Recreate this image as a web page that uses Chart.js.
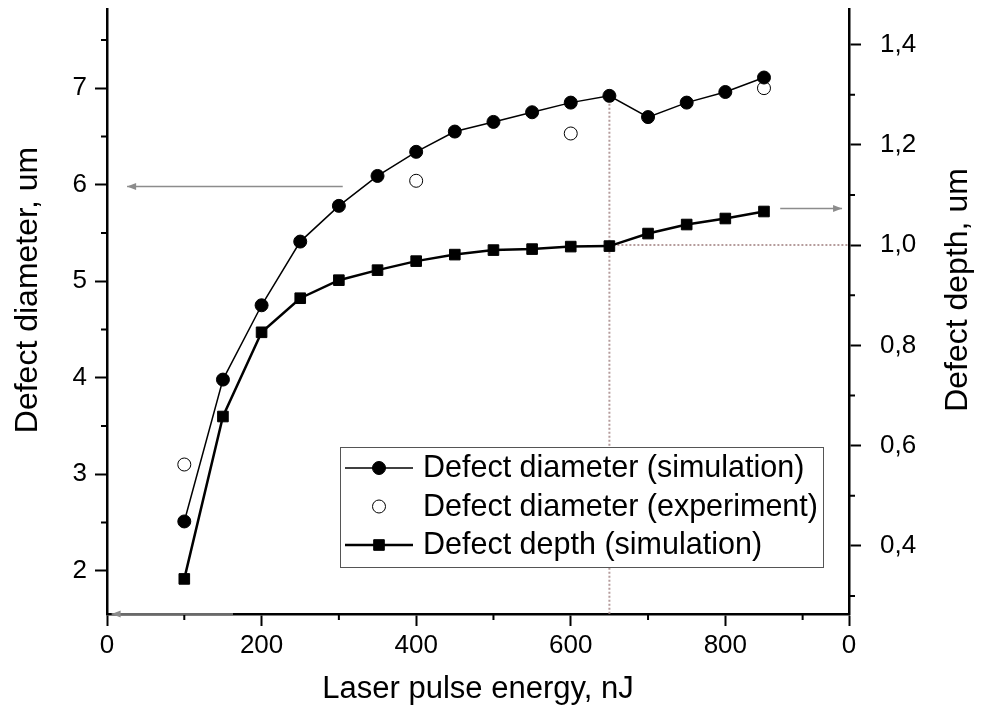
<!DOCTYPE html>
<html>
<head>
<meta charset="utf-8">
<script src="https://cdn.jsdelivr.net/npm/chart.js@4.4.1/dist/chart.umd.min.js"></script>
<style>
  html, body { margin: 0; padding: 0; background: #fff; }
</style>
</head>
<body>
<canvas id="myChart" width="984" height="708"></canvas>
<script>
// pulse energy, nJ
const energy = [100, 150, 200, 250, 300, 350, 400, 450, 500, 550, 600, 650, 700, 750, 800, 850];
// defect diameter, um (simulation)
const diamSim = [2.51, 3.98, 4.75, 5.41, 5.78, 6.09, 6.34, 6.55, 6.65, 6.75, 6.85, 6.92, 6.70, 6.85, 6.96, 7.11];
// defect diameter, um (experiment)
const expEnergy = [100, 400, 600, 850];
const diamExp = [3.10, 6.04, 6.53, 7.00];
// defect depth, um (simulation)
const depthSim = [0.334, 0.658, 0.826, 0.894, 0.930, 0.950, 0.968, 0.981, 0.990, 0.992, 0.997, 0.998, 1.023, 1.041, 1.053, 1.067];

const xTicks = [0, 200, 400, 600, 800, 960];
const xTickLabels = ['0', '200', '400', '600', '800', '0'];
const xMinor = [100, 300, 500, 700, 900];
const leftTicks = [2, 3, 4, 5, 6, 7];
const leftMinor = [2.5, 3.5, 4.5, 5.5, 6.5, 7.5];
const rightTicks = [0.4, 0.6, 0.8, 1.0, 1.2, 1.4];
const rightTickLabels = ['0,4', '0,6', '0,8', '1,0', '1,2', '1,4'];
const rightMinor = [0.3, 0.5, 0.7, 0.9, 1.1, 1.3];

const FONT = '"Liberation Sans", Arial, sans-serif';
Chart.defaults.font.family = FONT;
Chart.defaults.color = '#000';

function pts(xs, ys) {
  return xs.map((x, i) => ({ x: x, y: ys[i] }));
}

function arrow(ctx, x1, y1, x2, y2) {
  const a = Math.atan2(y2 - y1, x2 - x1);
  ctx.beginPath();
  ctx.moveTo(x1, y1);
  ctx.lineTo(x2, y2);
  ctx.stroke();
  ctx.beginPath();
  ctx.moveTo(x2, y2);
  ctx.lineTo(x2 - 9 * Math.cos(a) + 3.5 * Math.sin(a), y2 - 9 * Math.sin(a) - 3.5 * Math.cos(a));
  ctx.lineTo(x2 - 9 * Math.cos(a) - 3.5 * Math.sin(a), y2 - 9 * Math.sin(a) + 3.5 * Math.cos(a));
  ctx.closePath();
  ctx.fill();
}

function marker(ctx, style, x, y, r, fill) {
  ctx.fillStyle = fill;
  ctx.strokeStyle = '#000';
  ctx.lineWidth = 1;
  ctx.beginPath();
  if (style === 'rect') {
    const s = r * Math.SQRT1_2;
    ctx.rect(x - s, y - s, 2 * s, 2 * s);
  } else {
    ctx.arc(x, y, r, 0, Math.PI * 2);
  }
  ctx.fill();
  ctx.stroke();
}

// guides, arrows, minor ticks, y titles and the boxed legend
const extras = {
  id: 'extras',
  beforeDatasetsDraw(chart) {
    const ctx = chart.ctx;
    const x = chart.scales.x, yL = chart.scales.y, yR = chart.scales.yR;
    const area = chart.chartArea;
    const k = energy.indexOf(650);
    ctx.save();
    ctx.strokeStyle = '#b59c9c';
    ctx.lineWidth = 2;
    ctx.setLineDash([2, 2]);
    ctx.beginPath();
    ctx.moveTo(x.getPixelForValue(650), yL.getPixelForValue(diamSim[k]));
    ctx.lineTo(x.getPixelForValue(650), area.bottom);
    ctx.moveTo(x.getPixelForValue(650), yR.getPixelForValue(1.0));
    ctx.lineTo(area.right, yR.getPixelForValue(1.0));
    ctx.stroke();
    ctx.setLineDash([]);

    ctx.strokeStyle = '#8c8c8c';
    ctx.fillStyle = '#8c8c8c';
    ctx.lineWidth = 1.5;
    arrow(ctx, x.getPixelForValue(305), yL.getPixelForValue(5.98), x.getPixelForValue(26), yL.getPixelForValue(5.98));
    arrow(ctx, x.getPixelForValue(871), yR.getPixelForValue(1.073), x.getPixelForValue(951), yR.getPixelForValue(1.073));
    ctx.restore();
  },
  afterDraw(chart) {
    const ctx = chart.ctx;
    const x = chart.scales.x, yL = chart.scales.y, yR = chart.scales.yR;
    const area = chart.chartArea;
    ctx.save();
    // minor ticks
    ctx.strokeStyle = '#000';
    ctx.lineWidth = 2;
    ctx.beginPath();
    xMinor.forEach(v => {
      const px = x.getPixelForValue(v);
      ctx.moveTo(px, area.bottom);
      ctx.lineTo(px, area.bottom + 6);
    });
    leftMinor.forEach(v => {
      const py = yL.getPixelForValue(v);
      ctx.moveTo(area.left, py);
      ctx.lineTo(area.left - 6, py);
    });
    rightMinor.forEach(v => {
      const py = yR.getPixelForValue(v);
      ctx.moveTo(area.right, py);
      ctx.lineTo(area.right + 6, py);
    });
    ctx.stroke();

    // gray arrow lying on the bottom axis
    ctx.strokeStyle = '#8c8c8c';
    ctx.fillStyle = '#8c8c8c';
    ctx.lineWidth = 1.5;
    arrow(ctx, x.getPixelForValue(163), area.bottom, x.getPixelForValue(6), area.bottom);

    // y axis titles
    ctx.fillStyle = '#000';
    ctx.font = '32px ' + FONT;
    ctx.textAlign = 'center';
    ctx.textBaseline = 'middle';
    [[28, 'Defect diameter, um'], [958, 'Defect depth, um']].forEach(t => {
      ctx.save();
      ctx.translate(t[0], 290);
      ctx.rotate(-Math.PI / 2);
      ctx.fillText(t[1], 0, 0);
      ctx.restore();
    });

    // legend
    const lx = 340, ly = 447, lw = 483, lh = 120;
    ctx.fillStyle = '#fff';
    ctx.fillRect(lx, ly, lw, lh);
    ctx.strokeStyle = '#555';
    ctx.lineWidth = 1;
    ctx.strokeRect(lx + 0.5, ly + 0.5, lw, lh);
    ctx.font = '30.5px ' + FONT;
    ctx.textAlign = 'left';
    chart.data.datasets.forEach((ds, i) => {
      const cy = ly + 21 + i * 38.5;
      if (ds.showLine !== false) {
        ctx.strokeStyle = '#000';
        ctx.lineWidth = ds.borderWidth;
        ctx.beginPath();
        ctx.moveTo(lx + 5, cy);
        ctx.lineTo(lx + 73, cy);
        ctx.stroke();
      }
      marker(ctx, ds.pointStyle, lx + 39, cy, ds.pointRadius, ds.pointBackgroundColor);
      ctx.fillStyle = '#000';
      ctx.fillText(ds.label, lx + 83, cy + 1);
    });
    ctx.restore();
  }
};

const tickGrid = {
  drawOnChartArea: false,
  drawTicks: true,
  tickLength: 12,
  tickColor: '#000',
  tickWidth: 2
};
const axisBorder = { display: true, color: '#000', width: 2.5 };

new Chart(document.getElementById('myChart').getContext('2d'), {
  type: 'line',
  data: {
    datasets: [{
      label: 'Defect diameter (simulation)',
      data: pts(energy, diamSim),
      yAxisID: 'y',
      borderColor: '#000',
      borderWidth: 1.5,
      pointStyle: 'circle',
      pointRadius: 6.5,
      pointBackgroundColor: '#000',
      pointBorderColor: '#000',
      pointBorderWidth: 1
    }, {
      label: 'Defect diameter (experiment)',
      data: pts(expEnergy, diamExp),
      yAxisID: 'y',
      showLine: false,
      pointStyle: 'circle',
      pointRadius: 6.5,
      pointBackgroundColor: '#fff',
      pointBorderColor: '#000',
      pointBorderWidth: 1
    }, {
      label: 'Defect depth (simulation)',
      data: pts(energy, depthSim),
      yAxisID: 'yR',
      borderColor: '#000',
      borderWidth: 2.5,
      pointStyle: 'rect',
      pointRadius: 7.5,
      pointBackgroundColor: '#000',
      pointBorderColor: '#000',
      pointBorderWidth: 1
    }]
  },
  options: {
    responsive: false,
    animation: false,
    devicePixelRatio: 1,
    layout: { padding: { top: 9, left: 0, right: 0, bottom: 0 } },
    plugins: {
      legend: { display: false },
      tooltip: { enabled: false }
    },
    elements: { line: { tension: 0 } },
    scales: {
      x: {
        type: 'linear',
        min: 0,
        max: 960,
        grid: tickGrid,
        border: axisBorder,
        afterBuildTicks: s => { s.ticks = xTicks.map(v => ({ value: v })); },
        afterFit: s => { s.height = 94; s.paddingLeft = 0; s.paddingRight = 0; },
        ticks: {
          autoSkip: false,
          maxRotation: 0,
          padding: 4,
          font: { size: 26 },
          color: '#000',
          callback: (v, i) => xTickLabels[i]
        },
        title: {
          display: true,
          text: 'Laser pulse energy, nJ',
          font: { size: 31 },
          color: '#000',
          padding: { top: 0, bottom: 0 }
        }
      },
      y: {
        type: 'linear',
        position: 'left',
        min: 1.551,
        max: 7.82,
        grid: tickGrid,
        border: axisBorder,
        afterBuildTicks: s => { s.ticks = leftTicks.map(v => ({ value: v })); },
        afterFit: s => { s.width = 107; s.paddingTop = 0; s.paddingBottom = 0; },
        ticks: {
          padding: 8,
          font: { size: 26 },
          color: '#000',
          callback: v => String(v)
        }
      },
      yR: {
        type: 'linear',
        position: 'right',
        min: 0.264,
        max: 1.471,
        grid: tickGrid,
        border: axisBorder,
        afterBuildTicks: s => { s.ticks = rightTicks.map(v => ({ value: v })); },
        afterFit: s => { s.width = 135; s.paddingTop = 0; s.paddingBottom = 0; },
        ticks: {
          padding: 19,
          font: { size: 26 },
          color: '#000',
          callback: (v, i) => rightTickLabels[i]
        }
      }
    }
  },
  plugins: [extras]
});
</script>
</body>
</html>
